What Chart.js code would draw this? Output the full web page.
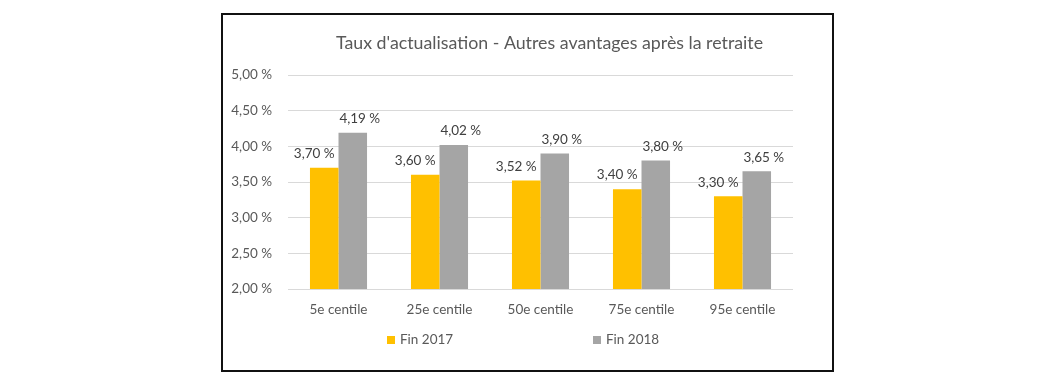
<!DOCTYPE html>
<html><head><meta charset="utf-8">
<script src="https://cdn.jsdelivr.net/npm/chart.js@4/dist/chart.umd.min.js"></script>
<style>
html,body{margin:0;padding:0;background:#fff;}
#wrap{position:relative;width:1056px;height:381px;}
#box{position:absolute;left:221px;top:13px;width:609px;height:355px;border:2px solid #111;pointer-events:none;}
</style></head>
<body>
<div id="wrap"><canvas id="c" width="1056" height="381"></canvas><div id="box"></div></div>
<script>
const title = "Taux d'actualisation - Autres avantages après la retraite";
const categories = ["5e centile","25e centile","50e centile","75e centile","95e centile"];
const seriesNames = ["Fin 2017","Fin 2018"];
const fin2017 = [3.70, 3.60, 3.52, 3.40, 3.30];
const fin2018 = [4.19, 4.02, 3.90, 3.80, 3.65];
const yTicks = [2.00, 2.50, 3.00, 3.50, 4.00, 4.50, 5.00];

const FONT = "Lato, 'Open Sans', sans-serif";
const fmt = v => v.toFixed(2).replace('.', ',') + '\u202F%';

const extras = {
  id: 'extras',
  afterDatasetsDraw(chart) {
    const ctx = chart.ctx, a = chart.chartArea;
    ctx.save();
    // data labels
    ctx.font = "13.5px " + FONT;
    ctx.fillStyle = '#404040';
    ctx.textAlign = 'center';
    ctx.textBaseline = 'middle';
    const offs = [-10, 7];
    chart.data.datasets.forEach((ds, i) => {
      chart.getDatasetMeta(i).data.forEach((bar, j) => {
        ctx.fillText(fmt(ds.data[j]), bar.x + offs[i], bar.y - 14);
      });
    });
    // title
    ctx.font = "17.8px " + FONT;
    ctx.fillStyle = '#595959';
    ctx.fillText(title, (a.left + a.right) / 2 + 9, 43);
    // legend
    ctx.font = "13.5px " + FONT;
    ctx.textAlign = 'left';
    const lx = [a.left + 99, a.left + 305];
    const ly = a.bottom + 51;
    chart.data.datasets.forEach((ds, i) => {
      ctx.fillStyle = ds.backgroundColor;
      ctx.fillRect(lx[i], ly - 4, 8, 8);
      ctx.fillStyle = '#595959';
      ctx.fillText(ds.label, lx[i] + 13, ly);
    });
    ctx.restore();
  }
};

new Chart(document.getElementById('c'), {
  type: 'bar',
  data: {
    labels: categories,
    datasets: [
      {label: seriesNames[0], data: fin2017, backgroundColor: '#FFC000', categoryPercentage: 0.565, barPercentage: 1},
      {label: seriesNames[1], data: fin2018, backgroundColor: '#A5A5A5', categoryPercentage: 0.565, barPercentage: 1}
    ]
  },
  options: {
    responsive: false,
    animation: false,
    layout: {padding: {left: 222, right: 263, top: 75, bottom: 52}},
    plugins: {legend: {display: false}, title: {display: false}, tooltip: {enabled: false}},
    scales: {
      x: {
        grid: {display: false},
        border: {display: false},
        ticks: {color: '#595959', font: {family: FONT, size: 13.5}, padding: 5},
        afterFit(s) { s.height = 40; }
      },
      y: {
        min: 2, max: 5,
        afterBuildTicks(s) { s.ticks = yTicks.map(v => ({value: v})); },
        grid: {color: '#D9D9D9', lineWidth: 1, drawTicks: false},
        border: {display: false},
        ticks: {color: '#595959', font: {family: FONT, size: 13.5}, padding: 16, callback: v => fmt(v)},
        afterFit(s) { s.width = 66; }
      }
    }
  },
  plugins: [extras]
});
</script>
</body></html>
